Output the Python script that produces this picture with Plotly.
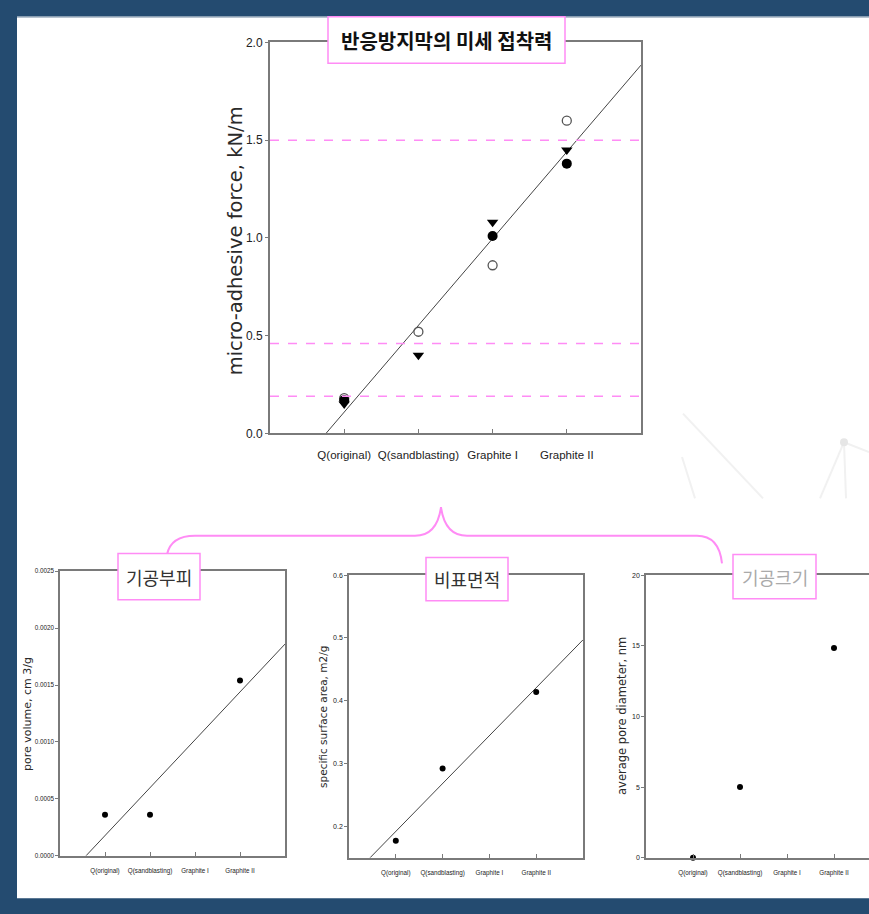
import plotly.graph_objects as go

W, H = 869, 914

# ---------------- data ----------------
categories = ["Q(original)", "Q(sandblasting)", "Graphite I", "Graphite II"]
cat_pos = [1, 2, 3, 4]

# main chart: micro-adhesive force (kN/m)
main_filled_x = [1, 3, 4]
main_filled_y = [0.17, 1.01, 1.38]
main_open_x = [1, 2, 3, 4]
main_open_y = [0.18, 0.52, 0.86, 1.60]
main_tri_x = [1, 2, 3, 4]
main_tri_y = [0.15, 0.40, 1.08, 1.45]
main_fit_x = [0.755, 5.0]
main_fit_y = [0.0, 1.884]
ref_levels = [1.5, 0.46, 0.19]
main_yticks = [0.0, 0.5, 1.0, 1.5, 2.0]
main_yticktext = ["0.0", "0.5", "1.0", "1.5", "2.0"]

# pore volume (cm3/g)
pv_x = [1, 2, 4]
pv_y = [0.00036, 0.00036, 0.00154]
pv_fit_x = [0.578, 5.0]
pv_fit_y = [0.0, 0.00186]
pv_ticks = [0.0, 0.0005, 0.0010, 0.0015, 0.0020, 0.0025]
pv_ticktext = ["0.0000", "0.0005", "0.0010", "0.0015", "0.0020", "0.0025"]

# specific surface area (m2/g)
ssa_x = [1, 2, 4]
ssa_y = [0.177, 0.292, 0.414]
ssa_fit_x = [0.45, 5.0]
ssa_fit_y = [0.15, 0.497]
ssa_ticks = [0.2, 0.3, 0.4, 0.5, 0.6]
ssa_ticktext = ["0.2", "0.3", "0.4", "0.5", "0.6"]

# average pore diameter (nm)
apd_x = [1, 2, 4]
apd_y = [0.0, 5.0, 14.85]
apd_ticks = [0, 5, 10, 15, 20]
apd_ticktext = ["0", "5", "10", "15", "20"]

titles = ["반응방지막의 미세 접착력", "기공부피", "비표면적", "기공크기"]
ytitles = ["micro-adhesive force, kN/m", "pore volume, cm 3/g",
           "specific surface area, m2/g", "average pore diameter, nm"]

# ---------------- helpers ----------------
def px(x):
    return x / W


def py(y):
    return 1 - y / H


NARROW = "Liberation Sans, Arial, sans-serif"
WIDE = "DejaVu Sans, Arial, sans-serif"
KR = "Noto Sans CJK KR, sans-serif"
BLUE = "#244b70"
PINK = "#ff8cf5"
AXC = "#7a7a7a"

fig = go.Figure()

# main traces
fig.add_trace(go.Scatter(x=main_fit_x, y=main_fit_y, mode="lines",
                         line=dict(color="#444", width=1), xaxis="x", yaxis="y",
                         showlegend=False, hoverinfo="skip"))
fig.add_trace(go.Scatter(x=main_open_x, y=main_open_y, mode="markers",
                         marker=dict(symbol="circle-open", size=9, color="#555",
                                     line=dict(width=1.3)),
                         xaxis="x", yaxis="y", showlegend=False))
fig.add_trace(go.Scatter(x=main_tri_x, y=main_tri_y, mode="markers",
                         marker=dict(symbol="triangle-down", size=10, color="#000"),
                         xaxis="x", yaxis="y", showlegend=False))
fig.add_trace(go.Scatter(x=main_filled_x, y=main_filled_y, mode="markers",
                         marker=dict(symbol="circle", size=10, color="#000"),
                         xaxis="x", yaxis="y", showlegend=False))

# pore volume
fig.add_trace(go.Scatter(x=pv_fit_x, y=pv_fit_y, mode="lines",
                         line=dict(color="#444", width=1), xaxis="x2", yaxis="y2",
                         showlegend=False, hoverinfo="skip"))
fig.add_trace(go.Scatter(x=pv_x, y=pv_y, mode="markers",
                         marker=dict(size=6, color="#000"), xaxis="x2", yaxis="y2",
                         showlegend=False))
# specific surface area
fig.add_trace(go.Scatter(x=ssa_fit_x, y=ssa_fit_y, mode="lines",
                         line=dict(color="#444", width=1), xaxis="x3", yaxis="y3",
                         showlegend=False, hoverinfo="skip"))
fig.add_trace(go.Scatter(x=ssa_x, y=ssa_y, mode="markers",
                         marker=dict(size=6, color="#000"), xaxis="x3", yaxis="y3",
                         showlegend=False))
# average pore diameter
fig.add_trace(go.Scatter(x=apd_x, y=apd_y, mode="markers",
                         marker=dict(size=6, color="#000"), xaxis="x4", yaxis="y4",
                         showlegend=False, cliponaxis=False))


def xax(dom, anchor, rng, fsize, standoff, lw, mirror=True):
    return dict(domain=dom, anchor=anchor, range=rng, tickmode="array",
                tickvals=cat_pos, ticktext=categories, ticks="inside", ticklen=4,
                tickcolor=AXC, showline=True, linecolor=AXC, linewidth=lw,
                mirror=mirror, showgrid=False, zeroline=False, tickangle=0,
                tickfont=dict(family=NARROW, size=fsize, color="#222"),
                ticklabelstandoff=standoff, fixedrange=True)


def yax(dom, anchor, rng, tv, tt, fsize, lw, mirror=True):
    return dict(domain=dom, anchor=anchor, range=rng, tickmode="array",
                tickvals=tv, ticktext=tt, ticks="outside", ticklen=3,
                tickcolor=AXC, showline=True, linecolor=AXC, linewidth=lw,
                mirror=mirror, showgrid=False, zeroline=False,
                tickfont=dict(family=NARROW, size=fsize, color="#222"),
                fixedrange=True)


fig.update_layout(
    xaxis=xax([px(270), px(641)], "y", [0, 5], 11.5, 10, 2),
    yaxis=yax([py(433), py(36)], "x", [0, 2.0], main_yticks, main_yticktext, 12, 2),
    xaxis2=xax([px(60), px(285)], "y2", [0, 5], 6.3, 8, 1.5),
    yaxis2=yax([py(862), py(573)], "x2", [0, 0.0025], pv_ticks, pv_ticktext, 6.3, 1.5),
    xaxis3=xax([px(349), px(583)], "y3", [0, 5], 6.3, 8, 1.5),
    yaxis3=yax([py(864), py(577)], "x3", [0.15, 0.6], ssa_ticks, ssa_ticktext, 7, 1.5),
    xaxis4=xax([px(646), 1.0], "y4", [0, (869 - 646) / 47.0], 6.3, 8, 1.5),
    yaxis4=yax([py(864), py(577)], "x4", [0, 20], apd_ticks, apd_ticktext, 7, 1.5,
               mirror=False),
)

shapes = []
# slide: white area inside blue frame
shapes.append(dict(type="rect", xref="paper", yref="paper", x0=px(17), x1=1.0,
                   y0=py(905), y1=py(10), fillcolor="white", line=dict(width=0),
                   layer="below"))
shapes.append(dict(type="line", xref="paper", yref="paper", x0=px(17), x1=1.0,
                   y0=py(10.5), y1=py(10.5), line=dict(color="#b7c3cf", width=1.5),
                   layer="below"))
# faint background network decoration
for (a, b, c, d) in [(683, 413, 763, 499), (682, 457, 695, 499),
                     (844, 442, 820, 499), (844, 442, 846, 499), (844, 442, 869, 452)]:
    shapes.append(dict(type="line", xref="paper", yref="paper", x0=px(a), y0=py(b),
                       x1=px(c), y1=py(d), line=dict(color="#f1f1f1", width=2),
                       layer="below"))
shapes.append(dict(type="circle", xref="paper", yref="paper", x0=px(840), x1=px(848),
                   y0=py(446), y1=py(438), fillcolor="#e6e6e6", line=dict(width=0),
                   layer="below"))

# reference dashed lines in main chart
for lv in ref_levels:
    shapes.append(dict(type="line", xref="x domain", yref="y", x0=0, x1=1, y0=lv, y1=lv,
                       line=dict(color=PINK, width=1.5, dash="dash"), layer="above"))


# curly brace
def P(x, y):
    return f"{px(x):.5f},{py(y):.5f}"


brace = (f"M {P(167, 556)} Q {P(171, 537)} {P(195, 537)} L {P(415, 537)} "
         f"Q {P(437, 537)} {P(441, 508)} Q {P(445, 537)} {P(467, 537)} "
         f"L {P(697, 537)} Q {P(719, 537)} {P(722, 565)}")
shapes.append(dict(type="path", xref="paper", yref="paper", path=brace,
                   line=dict(color=PINK, width=2)))

# title boxes
boxes = [(328, 10, 565, 57), (118, 555, 200, 602), (426, 559, 508, 603),
         (733, 556, 816, 601)]
for (a, b, c, d) in boxes:
    shapes.append(dict(type="rect", xref="paper", yref="paper", x0=px(a), x1=px(c),
                       y0=py(d), y1=py(b), fillcolor="white",
                       line=dict(color=PINK, width=1.5), layer="above"))

fig.update_layout(shapes=shapes)

ann = []
title_specs = [(446, 34, 20, "#111", "bold"), (159, 579, 18, "#333", "normal"),
               (467, 581, 18, "#333", "normal"), (775, 579, 18, "#aaaaaa", "normal")]
for t, (cx, cy, fs, col, wt) in zip(titles, title_specs):
    ann.append(dict(text=t, x=px(cx), y=py(cy), xref="paper", yref="paper",
                    showarrow=False, xanchor="center", yanchor="middle",
                    font=dict(family=KR, size=fs, color=col, weight=wt)))
ytitle_specs = [(235, 237, 19.5), (27, 718, 11), (323, 721, 10.5), (622, 720, 11.5)]
for t, (cx, cy, fs) in zip(ytitles, ytitle_specs):
    ann.append(dict(text=t, x=px(cx), y=py(cy), xref="paper", yref="paper",
                    showarrow=False, xanchor="center", yanchor="middle",
                    textangle=-90, font=dict(family=WIDE, size=fs, color="#2a2a2a")))
fig.update_layout(annotations=ann)

fig.update_layout(width=W, height=H, margin=dict(l=0, r=0, t=0, b=0),
                  paper_bgcolor=BLUE, plot_bgcolor="rgba(0,0,0,0)",
                  showlegend=False)

fig.write_html("out.html", config={"displayModeBar": False},
               post_script="document.body.style.margin='0';"
                           "document.body.style.overflow='hidden';")
